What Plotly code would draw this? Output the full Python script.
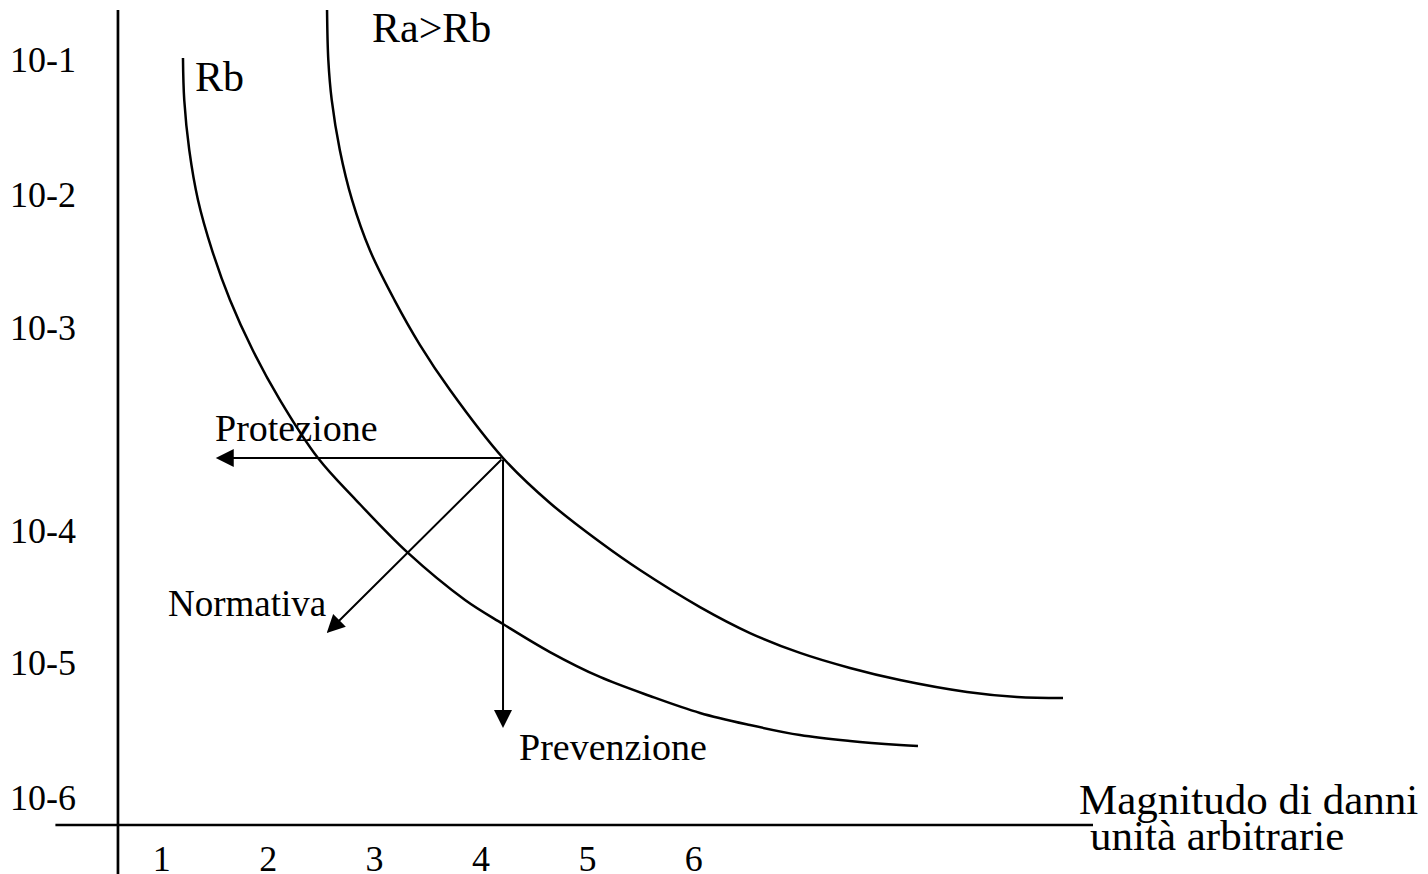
import plotly.graph_objects as go

# ---- data (x: magnitude of damage, arbitrary units; y: frequency exponent position) ----
x_tick_vals = [1, 2, 3, 4, 5, 6]
x_tick_text = ["1", "2", "3", "4", "5", "6"]
y_tick_vals = [-1.0, -1.911, -2.816, -4.189, -5.084, -6.0]
y_tick_text = ["10-1", "10-2", "10-3", "10-4", "10-5", "10-6"]

rb_x = [1.199, 1.211, 1.258, 1.340, 1.472, 1.641, 1.854, 2.111, 2.468, 2.825, 3.314,
        3.850, 4.207, 4.648, 5.118, 5.588, 6.058, 6.528, 6.998, 7.468, 7.938, 8.107]
rb_y = [-0.988, -1.273, -1.612, -1.951, -2.291, -2.630, -2.969, -3.308, -3.701, -3.986, -4.345,
        -4.664, -4.827, -5.017, -5.186, -5.315, -5.430, -5.512, -5.580, -5.620, -5.647, -5.654]

ra_x = [2.553, 2.565, 2.597, 2.673, 2.788, 2.955, 3.187, 3.427, 3.709, 4.207, 4.648,
        5.118, 5.494, 6.058, 6.528, 6.998, 7.468, 7.938, 8.568, 9.038, 9.470]
ra_y = [-0.663, -1.002, -1.273, -1.612, -1.951, -2.291, -2.630, -2.935, -3.240, -3.701, -4.006,
        -4.271, -4.461, -4.712, -4.888, -5.023, -5.125, -5.207, -5.288, -5.322, -5.329]

# reduction arrows: common origin on the Ra curve, and their tips
arrow_origin = (4.207, -3.701)
arrow_tip_x = [1.507, 2.550, 4.207]
arrow_tip_y = [-3.701, -4.888, -5.532]

# axes geometry (in data units)
x_origin = 0.588          # where the vertical axis stands
y_origin = -6.190         # where the horizontal axis lies
x_axis_extent = (0.0, 9.752)
y_axis_extent = (-6.522, -0.663)

X_RANGE = [-0.5207, 12.9004]
Y_RANGE = [-6.5222, -0.5951]

FONT = "Liberation Serif"
BLACK = "#000000"

fig = go.Figure()

fig.add_trace(go.Scatter(x=rb_x, y=rb_y, mode="lines", name="Rb",
                         line=dict(color=BLACK, width=2.5, shape="spline", smoothing=1.0),
                         hoverinfo="skip", showlegend=False))
fig.add_trace(go.Scatter(x=ra_x, y=ra_y, mode="lines", name="Ra>Rb",
                         line=dict(color=BLACK, width=2.5, shape="spline", smoothing=1.0),
                         hoverinfo="skip", showlegend=False))

shapes = [
    dict(type="line", xref="x", yref="y", x0=x_origin, x1=x_origin,
         y0=y_axis_extent[0], y1=y_axis_extent[1], line=dict(color=BLACK, width=2.7)),
    dict(type="line", xref="x", yref="y", x0=x_axis_extent[0], x1=x_axis_extent[1],
         y0=y_origin, y1=y_origin, line=dict(color=BLACK, width=2.7)),
]

annotations = []
for tx, ty in zip(arrow_tip_x, arrow_tip_y):
    annotations.append(dict(x=tx, y=ty, xref="x", yref="y",
                            ax=arrow_origin[0], ay=arrow_origin[1], axref="x", ayref="y",
                            text="", showarrow=True, arrowhead=2, arrowsize=1.8,
                            arrowwidth=2, arrowcolor=BLACK, standoff=0, startstandoff=0))

labels = [
    ("Rb", 1.296, -1.114, 42),
    ("Ra>Rb", 2.959, -0.787, 42),
    ("Protezione", 1.484, -3.498, 38),
    ("Normativa", 1.042, -4.686, 37),
    ("Prevenzione", 4.341, -5.664, 38),
    ("Magnitudo di danni", 9.604, -6.014, 43),
    ("unità arbitrarie", 9.707, -6.260, 43),
]
for txt, lx, ly, fs in labels:
    annotations.append(dict(x=lx, y=ly, xref="x", yref="y", text=txt, showarrow=False,
                            xanchor="left", yanchor="middle",
                            font=dict(family=FONT, size=fs, color=BLACK)))

fig.update_layout(
    width=1428, height=874,
    margin=dict(l=0, r=0, t=0, b=0, autoexpand=False),
    paper_bgcolor="white", plot_bgcolor="white",
    showlegend=False, hovermode=False,
    shapes=shapes, annotations=annotations,
    xaxis=dict(range=X_RANGE, anchor="free", position=49 / 874, automargin=False,
               tickmode="array", tickvals=x_tick_vals, ticktext=x_tick_text,
               showgrid=False, zeroline=False, showline=False, ticks="",
               ticklabelstandoff=9,
               tickfont=dict(family=FONT, size=36, color=BLACK), fixedrange=True),
    yaxis=dict(range=Y_RANGE, anchor="free", position=118 / 1428, automargin=False,
               tickmode="array", tickvals=y_tick_vals, ticktext=y_tick_text,
               showgrid=False, zeroline=False, showline=False, ticks="",
               ticklabelstandoff=42,
               tickfont=dict(family=FONT, size=36, color=BLACK), fixedrange=True),
)

fig.write_html("out.html", config={"displayModeBar": False},
               post_script="document.body.style.margin='0px';")
